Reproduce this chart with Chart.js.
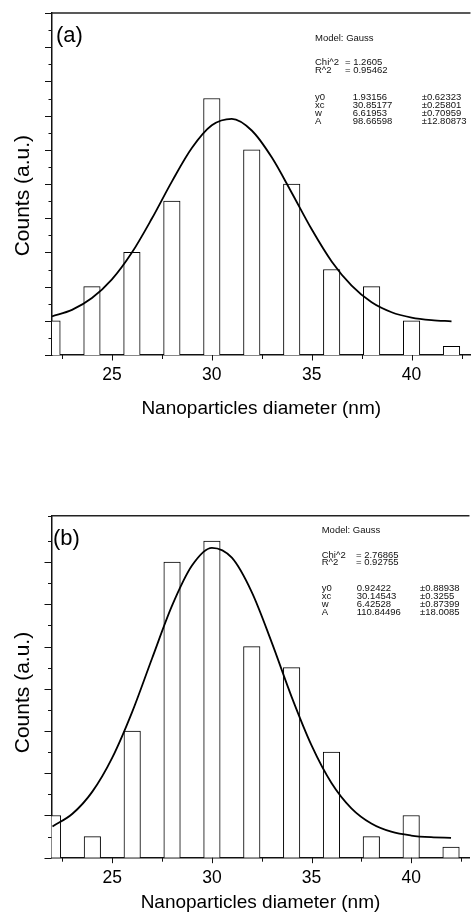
<!DOCTYPE html>
<html>
<head>
<meta charset="utf-8">
<script src="https://cdn.jsdelivr.net/npm/chart.js@4.4.1/dist/chart.umd.min.js"></script>
<style>
    body { margin: 0; background: #fff; }
    canvas { position: absolute; left: 0; }
    #chartA { top: 0; }
    #chartB { top: 455px; }
</style>
</head>
<body>
<canvas id="chartA" width="471" height="430"></canvas>
<canvas id="chartB" width="471" height="459"></canvas>
<script>
// histogram bins (nm) and counts
const diameters = [22, 24, 26, 28, 30, 32, 34, 36, 38, 40, 42];
const countsA = [2, 4, 6, 9, 15, 12, 10, 5, 4, 2, 0.5];
const countsB = [2, 1, 6, 14, 15, 10, 9, 5, 1, 2, 0.5];

// Gauss fit curves
const fitX = [22, 23, 24, 25, 26, 27, 28, 29, 30, 31, 32, 33, 34, 35, 36, 37, 38, 39, 40, 41, 42];
const fitA = [2.26, 2.64, 3.33, 4.42, 5.99, 7.98, 10.14, 12.10, 13.43, 13.81, 13.13, 11.56, 9.49, 7.35, 5.47, 4.05, 3.08, 2.50, 2.19, 2.04, 1.97];
const fitB = [1.48, 2.08, 3.13, 4.74, 6.91, 9.45, 11.94, 13.84, 14.68, 14.21, 12.58, 10.20, 7.62, 5.32, 3.54, 2.34, 1.62, 1.23, 1.05, 0.97, 0.94];

// axis ticks
const xTickValues = [22.5, 25, 27.5, 30, 32.5, 35, 37.5, 40, 42.5];
const xTickLabels = [25, 30, 35, 40];

// fit report
const fitNames = ['y0', 'xc', 'w', 'A'];
const chiA = ['1.2605', '0.95462'];
const fitValsA = ['1.93156', '30.85177', '6.61953', '98.66598'];
const fitErrsA = ['\u00b10.62323', '\u00b10.25801', '\u00b10.70959', '\u00b112.80873'];
const chiB = ['2.76865', '0.92755'];
const fitValsB = ['0.92422', '30.14543', '6.42528', '110.84496'];
const fitErrsB = ['\u00b10.88938', '\u00b10.3255', '\u00b10.87399', '\u00b118.0085'];

const FONT = '"Liberation Sans", Arial, sans-serif';

function decorPlugin(p) {
    return {
        id: 'decor',
        afterDraw(chart) {
            const { ctx, chartArea: a, scales: { x, y } } = chart;
            ctx.save();
            ctx.strokeStyle = '#111';
            ctx.lineWidth = 1;
            ctx.beginPath();
            xTickValues.forEach(v => {
                const px = Math.round(x.getPixelForValue(v)) + 0.5;
                const len = xTickLabels.includes(v) ? 5.5 : 4;
                ctx.moveTo(px, a.bottom);
                ctx.lineTo(px, a.bottom + len);
            });
            y.ticks.forEach(t => {
                const py = Math.round(y.getPixelForValue(t.value)) + 0.5;
                const len = t.value % 2 === 0 ? 7 : 3.5;
                ctx.moveTo(a.left - len, py);
                ctx.lineTo(a.left, py);
            });
            ctx.stroke();
            // top frame
            ctx.lineWidth = 1.5;
            ctx.strokeStyle = '#222';
            ctx.beginPath();
            ctx.moveTo(a.left, a.top);
            ctx.lineTo(a.right, a.top);
            ctx.stroke();

            ctx.fillStyle = '#000';
            ctx.textBaseline = 'middle';
            ctx.font = '22px ' + FONT;
            ctx.fillText(p.letter, p.letterX, a.top + p.letterDy);

            const ty = p.textY.map(d => a.top + d);
            ctx.fillStyle = '#111';
            ctx.font = '9.5px ' + FONT;
            ctx.fillText('Model: Gauss', p.colLabel, ty[0]);
            ctx.fillText('Chi^2', p.colLabel, ty[1]);
            ctx.fillText('= ' + p.chi[0], p.colEq, ty[1]);
            ctx.fillText('R^2', p.colLabel, ty[2]);
            ctx.fillText('= ' + p.chi[1], p.colEq, ty[2]);
            fitNames.forEach((n, i) => {
                ctx.fillText(n, p.colLabel, ty[3 + i]);
                ctx.fillText(p.vals[i], p.colVal, ty[3 + i]);
                ctx.fillText(p.errs[i], p.colErr, ty[3 + i]);
            });
            ctx.restore();
        }
    };
}

function makeChart(id, counts, fit, p) {
    const ctx = document.getElementById(id).getContext('2d');
    return new Chart(ctx, {
        type: 'bar',
        data: {
            datasets: [
                {
                    type: 'line',
                    data: fitX.map((v, i) => ({ x: v, y: fit[i] })),
                    borderColor: '#000',
                    borderWidth: 1.8,
                    pointRadius: 0,
                    cubicInterpolationMode: 'monotone',
                    fill: false,
                    order: 0
                },
                {
                    type: 'bar',
                    data: diameters.map((v, i) => ({ x: v, y: counts[i] })),
                    backgroundColor: '#fff',
                    borderColor: '#000',
                    borderWidth: 1,
                    barThickness: 16.5,
                    order: 1
                }
            ]
        },
        options: {
            responsive: false,
            animation: false,
            layout: { padding: { top: p.top, left: 0, right: 0, bottom: 0 } },
            plugins: { legend: { display: false }, tooltip: { enabled: false } },
            scales: {
                x: {
                    type: 'linear',
                    offset: false,
                    min: p.xMin,
                    max: p.xMax,
                    afterFit: s => { s.height = p.xHeight; },
                    afterBuildTicks: s => { s.ticks = xTickValues.map(v => ({ value: v })); },
                    grid: { display: false, drawTicks: false, offset: false },
                    border: { display: true, color: '#111', width: 1.5 },
                    ticks: {
                        autoSkip: false, maxRotation: 0, padding: p.tickPad, color: '#000',
                        font: { family: FONT, size: 17.5 },
                        callback: v => xTickLabels.includes(v) ? String(v) : ''
                    },
                    title: {
                        display: true, text: 'Nanoparticles diameter (nm)', color: '#000',
                        font: { family: FONT, size: 19, lineHeight: 1 },
                        padding: { top: 0, bottom: p.titlePad }
                    }
                },
                y: {
                    min: 0,
                    max: p.yMax,
                    afterFit: s => { s.width = p.yWidth; },
                    grid: { display: false, drawTicks: false },
                    border: { display: true, color: '#111', width: 1.5 },
                    ticks: { display: false, stepSize: 1 },
                    title: {
                        display: true, text: p.yTitle, color: '#000',
                        font: { family: FONT, size: 21, lineHeight: 1 },
                        padding: { top: 13, bottom: 0 }
                    }
                }
            }
        },
        plugins: [decorPlugin(p)]
    });
}

makeChart('chartA', countsA, fitA, {
    top: 13, xHeight: 75, yWidth: 52, xMin: 22, xMax: 42.95, yMax: 20,
    tickPad: 9.5, titlePad: 11.5, yTitle: 'Counts (a.u.)    ',
    letter: '(a)', letterX: 56, letterDy: 22.5,
    textY: [25, 49.5, 57, 84, 92, 100, 108],
    colLabel: 315, colEq: 345, colVal: 352.7, colErr: 421.7,
    chi: chiA, vals: fitValsA, errs: fitErrsA
});

makeChart('chartB', countsB, fitB, {
    top: 60.7, xHeight: 56.3, yWidth: 51.5, xMin: 21.95, xMax: 42.925, yMax: 16.2,
    tickPad: 10, titlePad: 1.5, yTitle: 'Counts (a.u.)  ',
    letter: '(b)', letterX: 53, letterDy: 23.3,
    textY: [14.3, 39.3, 46.8, 72.3, 80.3, 88.3, 96.3],
    colLabel: 321.7, colEq: 356, colVal: 356.7, colErr: 420,
    chi: chiB, vals: fitValsB, errs: fitErrsB
});
</script>
</body>
</html>
